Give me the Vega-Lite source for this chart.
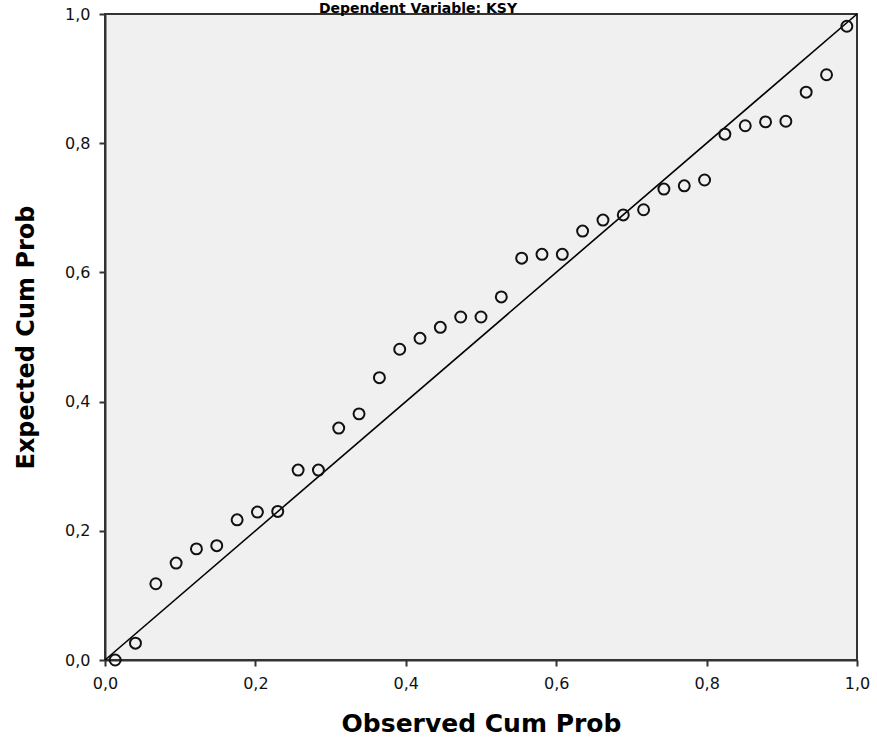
{
  "$schema": "https://vega.github.io/schema/vega-lite/v6.json",
  "width": 752,
  "height": 646,
  "autosize": {"type": "none"},
  "padding": {"left": 105, "top": 14, "right": 20, "bottom": 82},
  "background": "#ffffff",
  "title": {
    "text": "Dependent Variable: KSY",
    "font": "DejaVu Sans",
    "fontSize": 14,
    "fontWeight": "bold",
    "color": "#000000",
    "anchor": "middle",
    "baseline": "alphabetic",
    "offset": 2,
    "dy": 23,
    "dx": -63
  },
  "config": {
    "view": {"fill": "#f0f0f0", "stroke": "#333333", "strokeWidth": 2},
    "axis": {
      "grid": false,
      "domainColor": "#333333",
      "domainWidth": 2,
      "tickColor": "#333333",
      "tickWidth": 2,
      "tickSize": 6,
      "labelFont": "DejaVu Sans",
      "labelFontSize": 16,
      "labelColor": "#111111",
      "titleFont": "DejaVu Sans",
      "titleFontWeight": "bold",
      "titleColor": "#000000"
    }
  },
  "layer": [
    {
      "data": {"values": [{"ox": 0, "ex": 0}, {"ox": 1, "ex": 1}]},
      "mark": {"type": "line", "color": "#000000", "strokeWidth": 1.6},
      "encoding": {
        "x": {"field": "ox", "type": "quantitative"},
        "y": {"field": "ex", "type": "quantitative"}
      }
    },
    {
      "data": {"values": [
        {"ox": 0.0135, "ex": 0.000},
        {"ox": 0.0405, "ex": 0.026},
        {"ox": 0.0676, "ex": 0.118},
        {"ox": 0.0946, "ex": 0.150},
        {"ox": 0.1216, "ex": 0.172},
        {"ox": 0.1486, "ex": 0.177},
        {"ox": 0.1757, "ex": 0.217},
        {"ox": 0.2027, "ex": 0.229},
        {"ox": 0.2297, "ex": 0.230},
        {"ox": 0.2568, "ex": 0.294},
        {"ox": 0.2838, "ex": 0.294},
        {"ox": 0.3108, "ex": 0.359},
        {"ox": 0.3378, "ex": 0.381},
        {"ox": 0.3649, "ex": 0.437},
        {"ox": 0.3919, "ex": 0.481},
        {"ox": 0.4189, "ex": 0.498},
        {"ox": 0.4459, "ex": 0.515},
        {"ox": 0.4730, "ex": 0.531},
        {"ox": 0.5000, "ex": 0.531},
        {"ox": 0.5270, "ex": 0.562},
        {"ox": 0.5541, "ex": 0.622},
        {"ox": 0.5811, "ex": 0.628},
        {"ox": 0.6081, "ex": 0.628},
        {"ox": 0.6351, "ex": 0.664},
        {"ox": 0.6622, "ex": 0.681},
        {"ox": 0.6892, "ex": 0.689},
        {"ox": 0.7162, "ex": 0.697},
        {"ox": 0.7432, "ex": 0.729},
        {"ox": 0.7703, "ex": 0.734},
        {"ox": 0.7973, "ex": 0.743},
        {"ox": 0.8243, "ex": 0.814},
        {"ox": 0.8514, "ex": 0.827},
        {"ox": 0.8784, "ex": 0.833},
        {"ox": 0.9054, "ex": 0.834},
        {"ox": 0.9324, "ex": 0.879},
        {"ox": 0.9595, "ex": 0.906},
        {"ox": 0.9865, "ex": 0.981}
      ]},
      "mark": {"type": "point", "shape": "circle", "filled": false, "stroke": "#111111", "strokeWidth": 2, "size": 120, "opacity": 1},
      "encoding": {
        "x": {
          "field": "ox", "type": "quantitative",
          "scale": {"domain": [0, 1], "nice": false, "zero": false},
          "axis": {
            "title": "Observed Cum Prob",
            "titleFontSize": 25,
            "titlePadding": 20,
            "values": [0, 0.2, 0.4, 0.6, 0.8, 1],
            "labelExpr": "replace(format(datum.value, '.1f'), '.', ',')",
            "labelPadding": 9,
            "labelFlush": false
          }
        },
        "y": {
          "field": "ex", "type": "quantitative",
          "scale": {"domain": [0, 1], "nice": false, "zero": false},
          "axis": {
            "title": "Expected Cum Prob",
            "titleFontSize": 24,
            "titlePadding": 26,
            "values": [0, 0.2, 0.4, 0.6, 0.8, 1],
            "labelExpr": "replace(format(datum.value, '.1f'), '.', ',')",
            "labelPadding": 9,
            "labelFlush": false
          }
        }
      }
    }
  ]
}
